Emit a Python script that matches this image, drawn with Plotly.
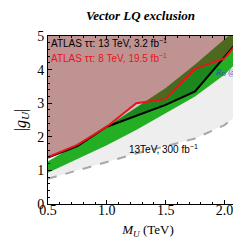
import plotly.graph_objects as go

# ---- data ----
mass = [0.5, 0.75, 1.0, 1.25, 1.5, 1.75, 2.0, 2.25]
atlas13_g = [1.38, 1.72, 2.30, 2.62, 2.95, 3.35, 4.40, 5.40]
atlas8_g = [1.40, 1.76, 2.30, 3.00, 3.12, 4.02, 4.33, 5.38]

band_mass = [0.5, 0.75, 1.0, 1.25, 1.5, 1.75, 2.0, 2.25]
rd_low = [0.93, 1.35, 1.75, 2.20, 2.70, 3.20, 3.85, 4.70]
rd_high = [1.27, 1.78, 2.30, 2.87, 3.45, 4.15, 4.90, 5.60]

proj_mass = [0.5, 0.75, 1.0, 1.25, 1.5, 1.75, 2.0, 2.25]
proj_g = [0.75, 1.00, 1.25, 1.50, 1.72, 1.95, 2.35, 3.05]

x_ticks = [0.5, 1.0, 1.5, 2.0]
y_ticks = [0, 1, 2, 3, 4, 5]
TOP = 6.0

fig = go.Figure()

fig.add_trace(go.Scatter(
    x=proj_mass + band_mass[::-1], y=proj_g + rd_low[::-1],
    fill="toself", fillcolor="#eeeeee", line=dict(width=0), mode="lines",
    hoverinfo="skip", showlegend=False))

fig.add_trace(go.Scatter(
    x=band_mass + band_mass[::-1], y=rd_low + rd_high[::-1],
    fill="toself", fillcolor="#24ae24", line=dict(width=0), mode="lines",
    hoverinfo="skip", showlegend=False))

fig.add_trace(go.Scatter(
    x=mass + [mass[-1], mass[0]], y=atlas13_g + [TOP, TOP],
    fill="toself", fillcolor="rgba(0,0,0,0.22)", line=dict(width=0), mode="lines",
    hoverinfo="skip", showlegend=False))

fig.add_trace(go.Scatter(
    x=mass + [mass[-1], mass[0]], y=atlas8_g + [TOP, TOP],
    fill="toself", fillcolor="rgba(172,48,42,0.34)", line=dict(width=0), mode="lines",
    hoverinfo="skip", showlegend=False))

fig.add_trace(go.Scatter(
    x=proj_mass, y=proj_g, mode="lines",
    line=dict(color="#a8a8a8", width=2, dash="dash"), showlegend=False))

fig.add_trace(go.Scatter(
    x=mass, y=atlas13_g, mode="lines",
    line=dict(color="black", width=2), showlegend=False))
fig.add_trace(go.Scatter(
    x=mass, y=atlas8_g, mode="lines",
    line=dict(color="#e8141b", width=2), showlegend=False))

serif = "Liberation Serif"
sans = "Liberation Sans"

fig.add_trace(go.Scatter(
    x=[1.925], y=[3.92], mode="text", text=["<i>R</i><sub>D</sub> @1σ"],
    textposition="middle right", cliponaxis=False,
    textfont=dict(family=serif, size=9, color="#1f4fd0"),
    hoverinfo="skip", showlegend=False))

fig.add_annotation(x=0.51, y=4.8, xref="x", yref="y", xanchor="left", yanchor="middle",
                   text="ATLAS ττ: 13 TeV, 3.2 fb<sup>−1</sup>", showarrow=False,
                   font=dict(family=sans, size=10, color="black"))
fig.add_annotation(x=0.51, y=4.35, xref="x", yref="y", xanchor="left", yanchor="middle",
                   text="ATLAS ττ: 8 TeV, 19.5 fb<sup>−1</sup>", showarrow=False,
                   font=dict(family=sans, size=10, color="#e8141b"))
fig.add_annotation(x=1.48, y=1.65, xref="x", yref="y", xanchor="center", yanchor="middle",
                   text="13TeV, 300 fb<sup>−1</sup>", showarrow=False,
                   font=dict(family=sans, size=10, color="black"))

fig.update_layout(
    width=241, height=240,
    margin=dict(l=40, r=1, t=28, b=44),
    paper_bgcolor="white", plot_bgcolor="white",
    title=dict(text="<b><i>Vector LQ exclusion</i></b>", x=0.55, xanchor="center",
               y=0.99, yanchor="top", automargin=False,
               font=dict(family=serif, size=13, color="black")),
    xaxis=dict(range=[0.5, 2.2], tickvals=x_ticks, ticktext=[f"{v:.1f}" for v in x_ticks],
               ticks="inside", ticklen=4, tickcolor="black", showline=True, linecolor="black",
               linewidth=1, mirror="ticks", showgrid=False, zeroline=False, automargin=False,
               ticklabelstandoff=-7,
               tickfont=dict(family=serif, size=14, color="black"),
               minor=dict(dtick=0.1, tick0=0.5, ticks="inside", ticklen=2, tickcolor="black"),
               title=dict(text="<i>M<sub>U</sub></i> (TeV)", standoff=8,
                          font=dict(family=serif, size=13, color="black"))),
    yaxis=dict(range=[0, 5], tickvals=y_ticks, ticks="inside", ticklen=4, tickcolor="black",
               showline=True, linecolor="black", linewidth=1, mirror="ticks",
               showgrid=False, zeroline=False, automargin=False,
               tickfont=dict(family=serif, size=14, color="black"),
               minor=dict(dtick=0.2, ticks="inside", ticklen=2, tickcolor="black"),
               title=dict(text="|<i>g<sub>U</sub></i>|", standoff=6,
                          font=dict(family=serif, size=16, color="black"))),
)

fig.write_html("out.html")
